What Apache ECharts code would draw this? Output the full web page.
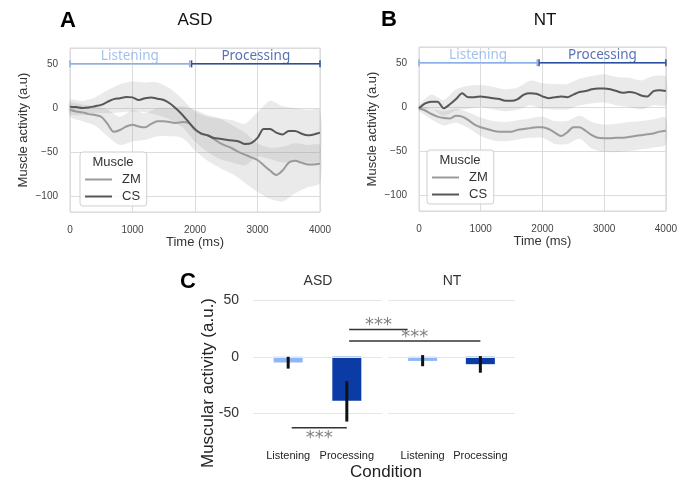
<!DOCTYPE html>
<html><head><meta charset="utf-8">
<script src="https://cdn.jsdelivr.net/npm/echarts@6/dist/echarts.min.js"></script>
<style>html,body{margin:0;padding:0;background:#fff}#c{width:680px;height:482px}</style>
</head><body><div id="c"></div><script>
// ---------- data ----------
const timeMs = [0,100,200,300,400,500,600,700,800,900,1000,1100,1200,1300,1400,1500,1600,1700,1800,1900,2000,2100,2200,2300,2400,2500,2600,2700,2800,2900,3000,3100,3200,3300,3400,3500,3600,3700,3800,3900,4000];
const asdZM = [-2,-4,-5,-7,-8,-10,-18,-27,-25,-21,-19,-21,-22,-18,-15,-15,-16,-17,-16,-17,-25,-29,-31,-35,-40,-43,-46,-50,-53,-56,-59,-65,-71,-76,-71,-62,-60,-62,-64,-64,-63];
const asdCS = [1.5,1,0,0.5,2,3.5,7,10,11,12.5,12,9,11,12,10.5,9,5,-1,-8,-16,-24,-29,-31,-34,-35,-36,-37,-38,-41,-40,-34,-24,-24,-28,-30,-26,-26,-29,-31,-30,-28];
const ntZM = [-1.5,-4,-8,-11,-12.5,-13,-10,-11,-15,-20,-23,-25,-27,-28,-28,-28,-26,-25,-24,-23,-23,-25,-29,-33,-29,-23,-23,-27,-32,-35,-35.5,-35.5,-35,-35,-34,-33,-32,-31,-30,-28,-27];
const ntCS = [-1.5,4,6,6,-1.5,3,9,15.5,11,11,12,11,10,9,7,7,9,14,15.5,15,12,10,11,12,11,14,17,18,20,21,21,20,18,16,17,16,13,12,18,19,18];

const bandMs = [0,200,400,600,800,1000,1200,1400,1600,1800,2000,2200,2400,2600,2800,3000,3200,3400,3600,3800,4000];
const asdCSLo = [-7,-8,-6,-6,-5,-4,-5,-8,-13,-22,-38,-50,-58,-62,-65,-55,-58,-62,-60,-62,-60];
const asdCSHi = [9,8,12,20,27,30,29,29,22,10,-4,-10,-12,-14,-18,-5,8,2,0,-2,-2];
const asdZMLo = [-10,-15,-20,-32,-42,-38,-36,-32,-32,-34,-48,-60,-68,-75,-85,-95,-103,-106,-97,-90,-85];
const asdZMHi = [6,4,2,-2,-10,-2,-6,0,0,2,-2,-8,-12,-20,-28,-40,-45,-44,-40,-42,-42];
const ntCSLo = [-4,-2,-10,-4,-2,0,-3,-5,-3,2,-2,-3,-3,2,4,5,2,0,-3,2,2];
const ntCSHi = [2,14,8,20,24,25,23,20,22,30,27,26,26,32,35,37,34,33,30,35,34];
const ntZMLo = [-4,-14,-21,-18,-24,-33,-38,-39,-37,-35,-35,-42,-42,-36,-47,-51,-51,-50,-48,-46,-43];
const ntZMHi = [1,-2,-5,-2,-6,-12,-16,-17,-15,-13,-11,-16,-16,-10,-17,-20,-19,-17,-16,-14,-12];

const phaseNames = ['Listening','Processing'];
const phaseStart = [0,1945];
const phaseEnd = [1915,4000];
const phaseLevel = 50;

const conditions = ['Listening','Processing'];
const groups = ['ASD','NT'];
const asdMean = [-5,-38.7];
const asdCiLo = [-10.4,-57];
const asdCiHi = [0,-21.4];
const ntMean = [-3.6,-6.5];
const ntCiLo = [-8.3,-14];
const ntCiHi = [1.5,0.6];

const sigFrom = [['ASD',1.04],['ASD',1.04],['ASD',0.06]];
const sigTo = [['NT',-0.26],['NT',1.0],['ASD',1.0]];
const sigY = [24,14,-62.5];
const sigText = ['***','***','***'];

// ---------- styles ----------
const SANS = '"Liberation Sans", Arial, sans-serif';
const ZM_COLOR = '#9a9a9a', CS_COLOR = '#575757';
const PHASE_COLORS = ['#8cb1e8','#2b4f9f'];
const BAR_COLORS = ['#8db6f2','#0b3ca6'];

const chart = echarts.init(document.getElementById('c'), null, {renderer:'canvas'});

function band(gi, lo, hi, name) {
  return {
    type:'custom', name:name, xAxisIndex:gi, yAxisIndex:gi, silent:true, z:1,
    data: bandMs.map((t,i)=>[t, lo[i], hi[i]]),
    encode:{x:0, y:[1,2]},
    renderItem: function(params, api){
      if (params.dataIndex !== 0) return null;
      const up = [], dn = [];
      for (let i=0;i<bandMs.length;i++){ up.push(api.coord([bandMs[i], hi[i]])); dn.push(api.coord([bandMs[i], lo[i]])); }
      return {type:'polygon', shape:{points: up.concat(dn.reverse()), smooth:0.25}, style:{fill:'rgba(150,150,150,0.2)'}};
    }
  };
}
function line(gi, vals, name, color) {
  return {type:'line', name:name, xAxisIndex:gi, yAxisIndex:gi, data: timeMs.map((t,i)=>[t, vals[i]]),
    showSymbol:false, symbol:'none', smooth:0.3, lineStyle:{color:color, width:2}, itemStyle:{color:color}, z:3, silent:true};
}
function phases(gi) {
  const out = [];
  phaseNames.forEach((nm, k) => {
    out.push({type:'line', name:'phase'+k, xAxisIndex:gi, yAxisIndex:gi, silent:true, z:4,
      data:[[phaseStart[k], phaseLevel],[phaseEnd[k], phaseLevel]],
      symbol:'rect', symbolSize:[1.5,7], showSymbol:true,
      lineStyle:{color:PHASE_COLORS[k], width:1.5}, itemStyle:{color:PHASE_COLORS[k]}});
    out.push({type:'scatter', name:'phaseLabel'+k, xAxisIndex:gi, yAxisIndex:gi, silent:true, z:4,
      data:[[(phaseStart[k]+phaseEnd[k])/2, phaseLevel]], symbolSize:0,
      label:{show:true, position:'top', distance:1, formatter:nm, color:PHASE_COLORS[k], fontFamily:'"Noto Sans", "DejaVu Sans", sans-serif', fontSize:13.5}});
  });
  return out;
}
function lineXAxis(gi){
  return {gridIndex:gi, type:'value', min:0, max:4000, interval:1000,
    name:'Time (ms)', nameLocation:'middle', nameGap:24, nameTextStyle:{fontFamily:SANS, fontSize:13, color:'#333'},
    axisLine:{show:false}, axisTick:{show:false},
    axisLabel:{fontFamily:SANS, fontSize:10, color:'#444', margin:13, formatter: v => String(v)},
    splitLine:{show:true, lineStyle:{color:'#dcdcdc', width:1}}};
}
function lineYAxis(gi){
  return {gridIndex:gi, type:'value', min:-118, max:68, splitNumber:4,
    name:'Muscle activity (a.u)', nameLocation:'middle', nameGap:40, nameTextStyle:{fontFamily:SANS, fontSize:13, color:'#333'},
    axisLine:{show:false}, axisTick:{show:false},
    axisLabel:{fontFamily:SANS, fontSize:10, color:'#444', margin:12,
      formatter: v => (v % 50 === 0) ? String(v).replace('-', '\u2212') : ''},
    splitLine:{show:true, lineStyle:{color:'#dcdcdc', width:1}}};
}
function barXAxis(gi){
  return {gridIndex:gi, type:'value', min:-0.6, max:1.6, splitNumber:2,
    axisLine:{show:false}, axisTick:{show:false}, splitLine:{show:false},
    axisLabel:{fontFamily:SANS, fontSize:11, color:'#222', margin:8, showMinLabel:false, showMaxLabel:false,
      formatter: v => (Math.abs(v - Math.round(v)) < 1e-9 && conditions[Math.round(v)]) ? conditions[Math.round(v)] : ''}};
}
function barYAxis(gi, showLabels){
  return {gridIndex:gi, type:'value', min:-75, max:50, splitNumber:3,
    axisLine:{show:false}, axisTick:{show:false}, splitLine:{show:false},
    axisLabel:{show:showLabels, fontFamily:SANS, fontSize:14, color:'#333', margin:14,
      formatter: v => (v % 50 === 0) ? String(v) : ''}};
}
function bars(gi, means){
  return {type:'bar', name:'bars'+gi, xAxisIndex:gi, yAxisIndex:gi, barWidth:29, silent:true, z:2,
    data: means.map((m,i)=>({value:[i, m], itemStyle:{color:BAR_COLORS[i]}})),
    markLine:{silent:true, symbol:['none','none'], label:{show:false},
      lineStyle:{color:'#e6e6e6', type:'solid', width:1}, data:[{yAxis:50},{yAxis:0},{yAxis:-50}]}};
}
function errbars(gi, lo, hi){
  return {type:'custom', name:'err'+gi, xAxisIndex:gi, yAxisIndex:gi, silent:true, z:5,
    data: lo.map((l,i)=>[i, l, hi[i]]), encode:{x:0, y:[1,2]},
    renderItem: function(params, api){
      const a = api.coord([api.value(0), api.value(1)]), b = api.coord([api.value(0), api.value(2)]);
      return {type:'line', shape:{x1:a[0], y1:a[1], x2:b[0], y2:b[1]}, style:{stroke:'#111', lineWidth:3}};
    }};
}

const legendBase = {orient:'vertical', data:['ZM','CS'], icon:'rect', itemWidth:27, itemHeight:2, itemGap:4,
  padding:[21,6,3,5], borderColor:'#cfcfcf', borderWidth:1, borderRadius:3, backgroundColor:'rgba(255,255,255,0.85)',
  textStyle:{fontFamily:SANS, fontSize:13, color:'#333', padding:[0,0,0,5]}, selectedMode:false};

function txt(x, y, text, font, color, extra){
  return Object.assign({type:'text', x:x, y:y, silent:true, z:100,
    style:{text:text, font:font, fill:color||'#111', align:'center', verticalAlign:'middle'}}, extra||{});
}

const option = {
  animation:false,
  backgroundColor:'#fff',
  grid:[
    {left:70, top:48, width:250, height:164, show:true, borderColor:'#d6d6d6', borderWidth:1, backgroundColor:'#fff'},
    {left:419, top:47, width:250, height:164, show:true, borderColor:'#d6d6d6', borderWidth:1, backgroundColor:'#fff'},
    {left:253, top:300, width:129, height:142},
    {left:388, top:300, width:127, height:142}
  ],
  xAxis:[lineXAxis(0), lineXAxis(1), barXAxis(2), barXAxis(3)],
  yAxis:[lineYAxis(0), lineYAxis(1), barYAxis(2, true), barYAxis(3, false)],
  legend:[
    Object.assign({}, legendBase, {left:80, top:152}),
    Object.assign({}, legendBase, {left:427, top:150})
  ],
  series:[
    band(0, asdZMLo, asdZMHi, 'bandZM_A'), band(0, asdCSLo, asdCSHi, 'bandCS_A'),
    line(0, asdZM, 'ZM', ZM_COLOR), line(0, asdCS, 'CS', CS_COLOR),
    ...phases(0),
    band(1, ntZMLo, ntZMHi, 'bandZM_B'), band(1, ntCSLo, ntCSHi, 'bandCS_B'),
    line(1, ntZM, 'ZM', ZM_COLOR), line(1, ntCS, 'CS', CS_COLOR),
    ...phases(1),
    bars(2, asdMean), errbars(2, asdCiLo, asdCiHi),
    bars(3, ntMean), errbars(3, ntCiLo, ntCiHi)
  ],
  graphic:[
    txt(68, 21, 'A', 'bold 22px ' + SANS, '#000'),
    txt(195, 20, 'ASD', '17px ' + SANS, '#111'),
    txt(389, 20, 'B', 'bold 22px ' + SANS, '#000'),
    txt(545, 20, 'NT', '17px ' + SANS, '#111'),
    txt(113, 162, 'Muscle', '13px ' + SANS, '#333'),
    txt(460, 160, 'Muscle', '13px ' + SANS, '#333'),
    txt(188, 282, 'C', 'bold 22px ' + SANS, '#000'),
    txt(318, 281, 'ASD', '14px ' + SANS, '#333'),
    txt(452, 281, 'NT', '14px ' + SANS, '#333'),
    txt(208, 383, 'Muscular activity (a.u.)', '17px ' + SANS, '#222', {rotation: Math.PI/2}),
    txt(386, 472, 'Condition', '17px ' + SANS, '#222')
  ]
};
chart.setOption(option);

// significance brackets positioned through the bar-chart axes
const facetGrid = {ASD:2, NT:3};
const extra = [];
sigFrom.forEach((f, i) => {
  const t = sigTo[i];
  const p1 = chart.convertToPixel({gridIndex: facetGrid[f[0]]}, [f[1], sigY[i]]);
  const p2 = chart.convertToPixel({gridIndex: facetGrid[t[0]]}, [t[1], sigY[i]]);
  extra.push({type:'line', silent:true, z:100, shape:{x1:p1[0], y1:p1[1], x2:p2[0], y2:p2[1]}, style:{stroke:'#333', lineWidth:1.5}});
  const below = sigY[i] < 0;
  extra.push(txt((p1[0]+p2[0])/2, p1[1] + (below ? 11 : -4), sigText[i], '18px "DejaVu Sans", sans-serif', '#808080', {z:99}));
});
chart.setOption({graphic: option.graphic.concat(extra)});
</script></body></html>
